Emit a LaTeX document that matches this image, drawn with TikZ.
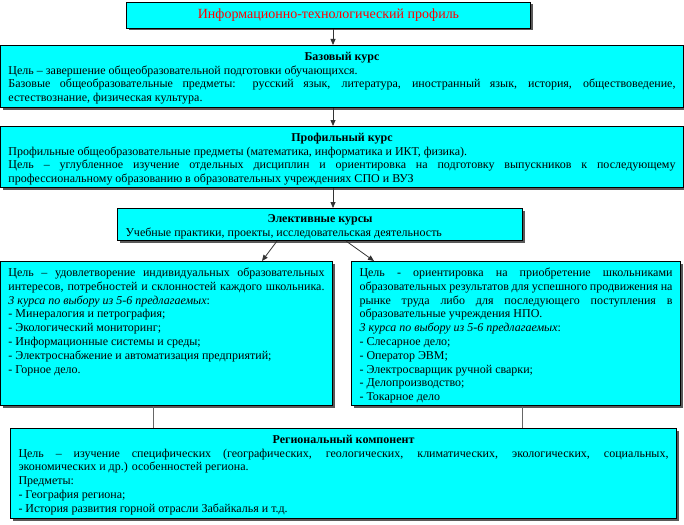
\documentclass[tikz,border=0pt]{standalone}
\usepackage{fontspec}
\setmainfont{Liberation Serif}
\usetikzlibrary{shadows,arrows.meta}
\definecolor{boxfill}{RGB}{0,255,255}
\definecolor{titlered}{RGB}{255,0,0}
\tikzset{
  box/.style={draw=black, line width=1pt, fill=boxfill, anchor=north west, inner xsep=8pt, inner ysep=2pt,
    general shadow={fill=black!65, shadow xshift=2pt, shadow yshift=-2pt}},
  arr/.style={draw=black!80, line width=0.8pt, -{Triangle[length=6pt,width=5pt]}},
  link/.style={draw=black!60, line width=1pt}
}
\newcommand\bx[6]{\node[box] (#1) at (#2,#3) {\parbox[t][\dimexpr#5pt-4pt\relax][t]{\dimexpr#4pt-16pt\relax}{\fontsize{12}{13.8}\selectfont\raggedright\parindent=0pt \vspace*{4.5pt}#6}};}
\newcommand\jl[1]{\makebox[\linewidth][s]{#1}\par}
\newcommand\hd[1]{\makebox[\linewidth]{\textbf{#1}}\par}
\begin{document}
\begin{tikzpicture}[x=1pt,y=-1pt]
\useasboundingbox (0,0) rectangle (684,524);
\node[box, inner sep=0pt, minimum width=404pt, minimum height=26pt] (title) at (126,2)
  {\fontsize{14}{15}\selectfont\color{titlered}Информационно-технологический профиль};
\bx{base}{0}{45}{683}{62}{\hd{Базовый курс}
Цель – завершение общеобразовательной подготовки обучающихся.\par
\jl{Базовые общеобразовательные предметы: русский язык, литература, иностранный язык, история, обществоведение,}
естествознание, физическая культура.\par}
\bx{prof}{0}{126}{683}{61}{\hd{Профильный курс}
Профильные общеобразовательные предметы (математика, информатика и ИКТ, физика).\par
\jl{Цель – углубленное изучение отдельных дисциплин и ориентировка на подготовку выпускников к последующему}
профессиональному образованию в образовательных учреждениях СПО и ВУЗ\par}
\bx{elect}{117}{208}{405}{32}{\hd{Элективные курсы}
Учебные практики, проекты, исследовательская деятельность\par}
\bx{left}{0}{261}{332}{144}{\jl{Цель – удовлетворение индивидуальных образовательных}
\jl{интересов, потребностей и склонностей каждого школьника.}
\textit{3 курса по выбору из 5-6 предлагаемых}:\par
- Минералогия и петрография;\par
- Экологический мониторинг;\par
- Информационные системы и среды;\par
- Электроснабжение и автоматизация предприятий;\par
- Горное дело.\par}
\bx{right}{351}{261}{329}{144}{\jl{Цель - ориентировка на приобретение школьниками}
\jl{образовательных результатов для успешного продвижения на}
\jl{рынке труда либо для последующего поступления в}
образовательные учреждения НПО.\par
\textit{3 курса по выбору из 5-6 предлагаемых}:\par
- Слесарное дело;\par
- Оператор ЭВМ;\par
- Электросварщик ручной сварки;\par
- Делопроизводство;\par
- Токарное дело\par}
\bx{reg}{10}{428}{666}{90}{\hd{Региональный компонент}
\jl{Цель – изучение специфических (географических, геологических, климатических, экологических, социальных,}
экономических и др.) особенностей региона.\par
Предметы:\par
- География региона;\par
- История развития горной отрасли Забайкалья и т.д.\par}
\coordinate (ax) at (333,0);
\draw[arr] (title.south -| ax) -- (base.north -| ax);
\draw[arr] (base.south -| ax) -- (prof.north -| ax);
\draw[arr] (prof.south -| ax) -- (elect.north -| ax);
\coordinate (e1) at (277,0);
\coordinate (e2) at (346,0);
\coordinate (l1) at (262,0);
\coordinate (r1) at (374,0);
\draw[arr] (elect.south -| e1) -- (left.north -| l1);
\draw[arr] (elect.south -| e2) -- (right.north -| r1);
\coordinate (c1) at (153,0);
\coordinate (c2) at (522,0);
\draw[link] (left.south -| c1) -- (reg.north -| c1);
\draw[link] (right.south -| c2) -- (reg.north -| c2);
\end{tikzpicture}
\end{document}
